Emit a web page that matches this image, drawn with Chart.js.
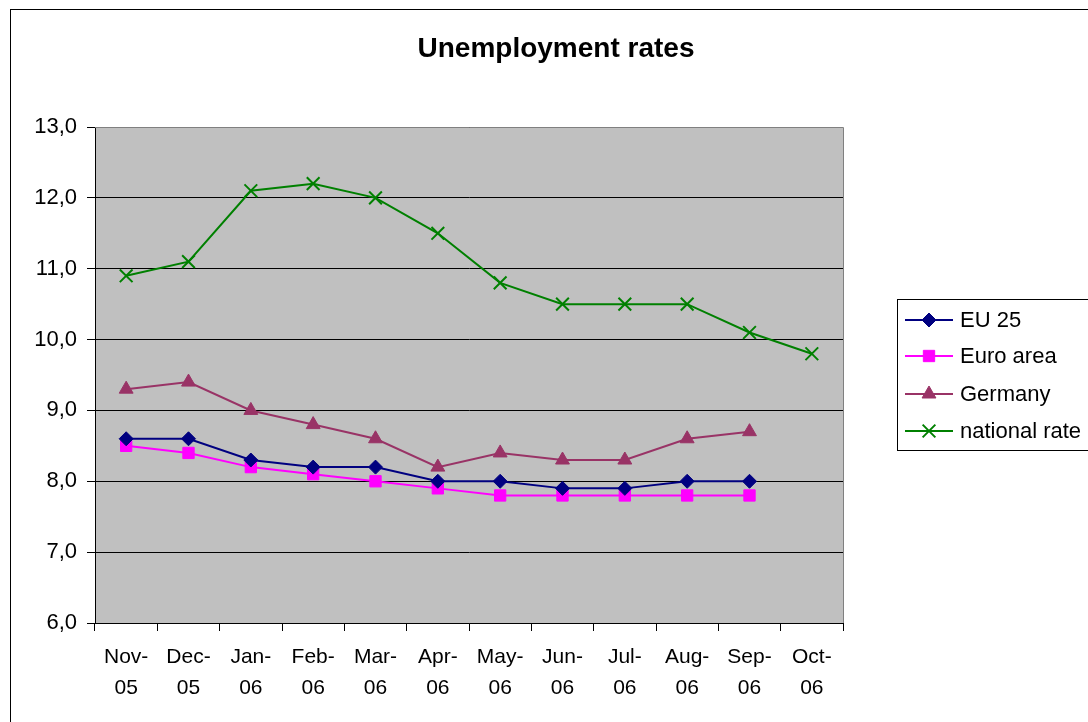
<!DOCTYPE html>
<html>
<head>
<meta charset="utf-8">
<script src="https://cdn.jsdelivr.net/npm/chart.js@4.4.1/dist/chart.umd.min.js"></script>
<style>
  body { margin: 0; background: #fff; }
  #wrap { position: relative; width: 1088px; height: 722px; overflow: hidden; }
  #frame { position: absolute; left: 10px; top: 9px; width: 1100px; height: 730px; border: 1px solid #000; box-sizing: border-box; }
  canvas { position: absolute; left: 0; top: 0; }
</style>
</head>
<body>
<div id="wrap">
  <div id="frame"></div>
  <canvas id="myChart" width="1088" height="722"></canvas>
</div>
<script>
const months = [["Nov-", "05"], ["Dec-", "05"], ["Jan-", "06"], ["Feb-", "06"], ["Mar-", "06"], ["Apr-", "06"],
  ["May-", "06"], ["Jun-", "06"], ["Jul-", "06"], ["Aug-", "06"], ["Sep-", "06"], ["Oct-", "06"]];
const eu25 = [8.6, 8.6, 8.3, 8.2, 8.2, 8.0, 8.0, 7.9, 7.9, 8.0, 8.0, null];
const euroArea = [8.5, 8.4, 8.2, 8.1, 8.0, 7.9, 7.8, 7.8, 7.8, 7.8, 7.8, null];
const germany = [9.3, 9.4, 9.0, 8.8, 8.6, 8.2, 8.4, 8.3, 8.3, 8.6, 8.7, null];
const nationalRate = [10.9, 11.1, 12.1, 12.2, 12.0, 11.5, 10.8, 10.5, 10.5, 10.5, 10.1, 9.8];

const FONT = "'Liberation Sans', Arial, sans-serif";

const plotBg = {
  id: "plotBg",
  beforeDraw(chart) {
    const { ctx, chartArea: a } = chart;
    ctx.save();
    ctx.fillStyle = "#c0c0c0";
    ctx.fillRect(a.left, a.top, a.right - a.left, a.bottom - a.top);
    ctx.restore();
  },
  afterDraw(chart) {
    const { ctx, chartArea: a } = chart;
    ctx.save();
    ctx.strokeStyle = "#808080";
    ctx.lineWidth = 1;
    ctx.beginPath();
    ctx.moveTo(a.left, a.top + 0.5);
    ctx.lineTo(a.right + 0.5, a.top + 0.5);
    ctx.lineTo(a.right + 0.5, a.bottom);
    ctx.stroke();

    // title
    ctx.fillStyle = "#000";
    ctx.font = "bold 28px " + FONT;
    ctx.textAlign = "center";
    ctx.textBaseline = "middle";
    ctx.fillText("Unemployment rates", 556, 49);

    // legend
    ctx.strokeStyle = "#000";
    ctx.lineWidth = 1;
    ctx.strokeRect(897.5, 299.5, 300, 151);
    ctx.font = "22px " + FONT;
    ctx.textAlign = "left";
    const rows = [320, 356, 394, 431];
    chart.data.datasets.forEach((ds, i) => {
      const y = rows[i];
      ctx.strokeStyle = ds.borderColor;
      ctx.fillStyle = ds.borderColor;
      ctx.lineWidth = 2;
      ctx.beginPath();
      ctx.moveTo(905, y);
      ctx.lineTo(953, y);
      ctx.stroke();
      ctx.lineWidth = ds.pointBorderWidth;
      Chart.helpers.drawPoint(ctx, {
        pointStyle: ds.pointStyle,
        radius: ds.pointRadius,
        borderWidth: ds.pointBorderWidth,
        rotation: 0
      }, 929, y);
      ctx.fillStyle = "#000";
      ctx.fillText(ds.label, 960, y + 1);
    });
    ctx.restore();
  }
};

function series(label, data, color, style, radius) {
  return {
    label: label,
    data: data,
    borderColor: color,
    backgroundColor: color,
    pointBackgroundColor: color,
    pointBorderColor: color,
    pointStyle: style,
    pointRadius: radius,
    pointHoverRadius: radius,
    pointBorderWidth: style === "crossRot" ? 2 : 1,
    borderWidth: 2,
    tension: 0,
    spanGaps: false
  };
}

new Chart(document.getElementById("myChart").getContext("2d"), {
  type: "line",
  data: {
    labels: months,
    datasets: [
      series("EU 25", eu25, "#000080", "rectRot", 7),
      series("Euro area", euroArea, "#ff00ff", "rect", 8),
      series("Germany", germany, "#993366", "triangle", 8),
      series("national rate", nationalRate, "#008000", "crossRot", 9)
    ]
  },
  options: {
    responsive: false,
    animation: false,
    layout: { padding: { left: 0, right: 245, top: 127, bottom: 0 } },
    plugins: {
      legend: { display: false },
      title: { display: false },
      tooltip: { enabled: false }
    },
    scales: {
      x: {
        type: "category",
        offset: true,
        afterFit(scale) { scale.height = 99; },
        grid: { display: true, drawOnChartArea: false, offset: true, tickLength: 8, color: "#000" },
        border: { color: "#000", width: 1 },
        ticks: {
          color: "#000",
          font: { family: FONT, size: 21, lineHeight: 1.5 },
          maxRotation: 0,
          autoSkip: false,
          padding: 10
        }
      },
      y: {
        min: 6,
        max: 13,
        afterFit(scale) { scale.width = 95; },
        grid: { color: "#000", tickLength: 8, lineWidth: 1 },
        border: { color: "#000", width: 1 },
        ticks: {
          stepSize: 1,
          color: "#000",
          padding: 10,
          font: { family: FONT, size: 22 },
          callback: (v) => v.toFixed(1).replace(".", ",")
        }
      }
    }
  },
  plugins: [plotBg]
});
</script>
</body>
</html>
